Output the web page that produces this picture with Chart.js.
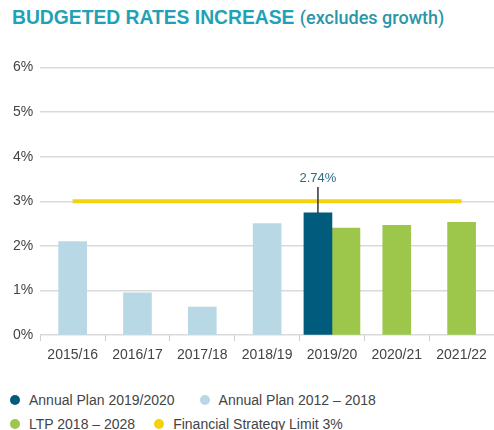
<!DOCTYPE html>
<html lang="en">
<head>
  <meta charset="UTF-8">
  <title>Budgeted Rates Increase</title>
  <script src="https://cdn.jsdelivr.net/npm/chart.js"></script>
  <style>
    body { margin: 0; background: #fff; font-family: "Liberation Sans", Arial, sans-serif; }
    #wrap { position: relative; width: 494px; height: 430px; overflow: hidden; }
    #title { position: absolute; left: 12px; top: 7px; font-size: 19.3px; color: #1fa2b6; white-space: nowrap; }
    #title b { font-weight: 700; }
    #title span { font-family: Roboto, "Liberation Sans", sans-serif; font-weight: 500; font-size: 18px; color: #2996a9; }
    #chartBox { position: absolute; left: 0; top: 52px; width: 494px; height: 318px; }
    #legend { position: absolute; left: 10px; top: 388px; font-size: 14px; color: #444; }
    .row { display: flex; height: 24px; align-items: center; }
    .item { display: flex; align-items: center; white-space: nowrap; }
    .dot { width: 10px; height: 10px; border-radius: 50%; margin-right: 9px; }
  </style>
</head>
<body>
  <div id="wrap">
    <div id="title"><b>BUDGETED RATES INCREASE</b> <span>(excludes growth)</span></div>
    <div id="chartBox"><canvas id="rates"></canvas></div>
    <div id="legend"></div>
  </div>

  <script>
    const years = ['2015/16', '2016/17', '2017/18', '2018/19', '2019/20', '2020/21', '2021/22'];
    const annualPlan1920 = [null, null, null, null, 2.74, null, null];
    const annualPlan1218 = [2.1, 0.95, 0.63, 2.5, null, null, null];
    const ltp = [null, null, null, null, 2.4, 2.46, 2.53];
    const strategyLimit = [3, 3, 3, 3, 3, 3, 3];
    const yTicks = [0, 1, 2, 3, 4, 5, 6];

    const labelPlugin = {
      id: 'callout',
      afterDatasetsDraw(chart) {
        const bar = chart.getDatasetMeta(0).data[4];
        const ctx = chart.ctx;
        ctx.save();
        ctx.strokeStyle = '#333';
        ctx.lineWidth = 1.5;
        ctx.beginPath();
        ctx.moveTo(bar.x, bar.y);
        ctx.lineTo(bar.x, bar.y - 26);
        ctx.stroke();
        ctx.fillStyle = '#2e6c86';
        ctx.font = '13px "Liberation Sans", Arial, sans-serif';
        ctx.textAlign = 'center';
        ctx.textBaseline = 'middle';
        ctx.fillText(annualPlan1920[4] + '%', bar.x, bar.y - 34);
        ctx.restore();
      }
    };

    const chart = new Chart(document.getElementById('rates'), {
      type: 'bar',
      data: {
        labels: years,
        datasets: [
          { label: 'Annual Plan 2019/2020', data: annualPlan1920, backgroundColor: '#005b7d', order: 2 },
          { label: 'Annual Plan 2012 – 2018', data: annualPlan1218, backgroundColor: '#b9d8e5', order: 2 },
          { label: 'LTP 2018 – 2028', data: ltp, backgroundColor: '#9cc74a', order: 2 },
          { type: 'line', label: 'Financial Strategy Limit 3%', data: strategyLimit, borderColor: '#f2d30c',
            backgroundColor: '#f2d30c', borderWidth: 4, pointRadius: 0, order: 1 }
        ]
      },
      options: {
        responsive: true,
        maintainAspectRatio: false,
        animation: false,
        skipNull: true,
        barThickness: 28,
        layout: { padding: { top: 8, left: 6, right: 0, bottom: 0 } },
        plugins: { legend: { display: false }, tooltip: { enabled: false } },
        scales: {
          x: {
            grid: { drawOnChartArea: false, drawTicks: true, tickLength: 6, color: '#d0d0d0' },
            border: { display: false },
            ticks: { color: '#444', font: { size: 14, family: '"Liberation Sans", Arial, sans-serif' }, padding: 6 }
          },
          y: {
            min: 0, max: 6,
            afterBuildTicks: axis => { axis.ticks = yTicks.map(v => ({ value: v })); },
            grid: { drawTicks: false, color: '#dadada', lineWidth: 1.5 },
            border: { display: false },
            ticks: { color: '#444', font: { size: 14, family: '"Liberation Sans", Arial, sans-serif' }, padding: 7,
              callback: v => v + '%' }
          }
        }
      },
      plugins: [labelPlugin]
    });

    // two legend rows, gap after the first item differs per row as in the original
    const legend = document.getElementById('legend');
    const ds = chart.data.datasets;
    [[0, 1, 25], [2, 3, 19]].forEach(([a, b, gap]) => {
      const row = document.createElement('div');
      row.className = 'row';
      [a, b].forEach((i, k) => {
        const item = document.createElement('div');
        item.className = 'item';
        if (k === 0) item.style.marginRight = gap + 'px';
        item.innerHTML = '<span class="dot" style="background:' + ds[i].backgroundColor + '"></span>' + ds[i].label;
        row.appendChild(item);
      });
      legend.appendChild(row);
    });
  </script>
</body>
</html>
